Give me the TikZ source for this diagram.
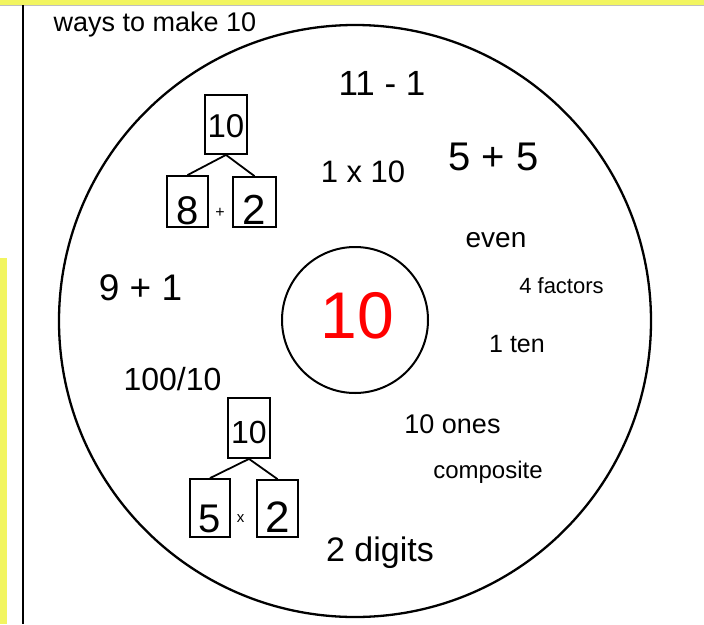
\documentclass[tikz,border=0pt]{standalone}
\usepackage{fontspec}
\setmainfont{Liberation Sans}
\newcommand\fsz[1]{\fontsize{#1}{#1}\selectfont}
\definecolor{hl}{RGB}{242,245,96}
\begin{document}
\begin{tikzpicture}[x=1pt,y=-1pt,
  txt/.style={anchor=base, inner sep=0pt},
  numbox/.style={draw, line width=1.8pt, inner sep=0pt, text depth=0pt},
  link/.style={line width=1.8pt}]
\useasboundingbox (0,0) rectangle (704,624);
\fill[hl] (0,0) rectangle (704,4.5);
\draw[gray!50, line width=0.8pt] (0,5) -- (704,5);
\fill[hl] (0,258) rectangle (7.3,624);
\draw[line width=1.7pt] (22.7,5) -- (22.7,624);
\node[draw, circle, line width=2.3pt, minimum size=592pt, inner sep=0pt] (outer) at (355,321) {};
\node[draw, circle, line width=2pt, minimum size=146pt, inner sep=0pt] (inner) at (355,320) {};
% texts
\node[txt, font=\fsz{27}] (title) at (155,31) {ways to make 10};
\node[txt, font=\fsz{35}] (a) at (382,95) {11 - 1};
\node[txt, font=\fsz{31}] (b) at (363,182) {1 x 10};
\node[txt, font=\fsz{40}] (c) at (493.5,170) {5 + 5};
\node[txt, font=\fsz{28}] (d) at (496,247) {even};
\node[txt, font=\fsz{22}] (e) at (561.5,293) {4 factors};
\node[txt, font=\fsz{25}] (f) at (517,352) {1 ten};
\node[txt, font=\fsz{37}] (g) at (140.5,300) {9 + 1};
\node[txt, font=\fsz{66}, text=red] (ten) at (357.5,338) {10};
\node[txt, font=\fsz{32}] (h) at (172.5,390) {100/10};
\node[txt, font=\fsz{27}] (i) at (452.5,433) {10 ones};
\node[txt, font=\fsz{24}] (j) at (488,478) {composite};
\node[txt, font=\fsz{34}] (k) at (380,561) {2 digits};
% tree 1
\node[numbox, minimum width=42pt, minimum height=59pt, text height=25pt, font=\fsz{33}] (t1) at (226,124.5) {10};
\node[numbox, minimum width=41pt, minimum height=51pt, text height=45pt, font=\fsz{40}] (t1l) at (187.5,201.5) {8};
\node[numbox, minimum width=43pt, minimum height=50pt, text height=44pt, font=\fsz{42}] (t1r) at (254.5,202) {2};
\node[txt, font=\fsz{16}] (t1op) at (220,217.5) {+};
\draw[link] (t1.south) -- (t1l.north);
\draw[link] (t1.south) -- (t1r.north);
% tree 2
\node[numbox, minimum width=42pt, minimum height=60pt, text height=30pt, font=\fsz{32}] (t2) at (249,428) {10};
\node[numbox, minimum width=40pt, minimum height=58pt, text height=48pt, font=\fsz{40}] (t2l) at (210,508) {5};
\node[numbox, minimum width=41pt, minimum height=57pt, text height=47pt, font=\fsz{44}] (t2r) at (277.5,508.5) {2};
\node[txt, font=\fsz{15}] (t2op) at (240.7,522) {x};
\draw[link] (t2.south) -- (t2l.north);
\draw[link] (t2.south) -- (t2r.north);
\end{tikzpicture}
\end{document}
